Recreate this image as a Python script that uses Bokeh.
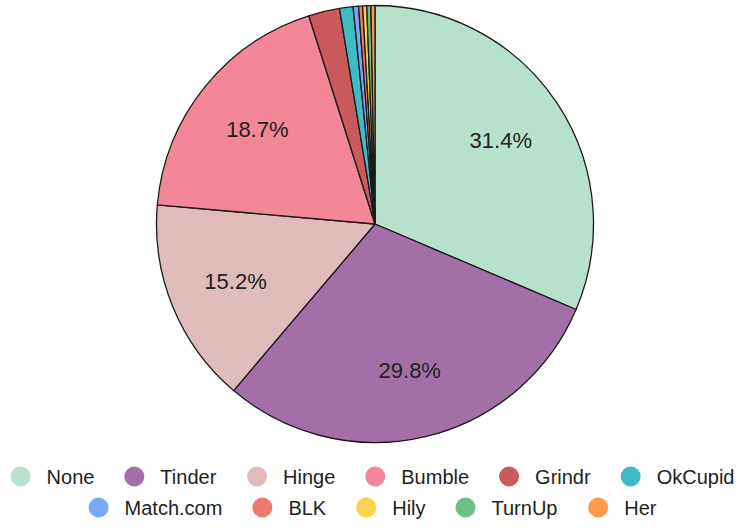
import math
from bokeh.plotting import figure
from bokeh.models import Range1d, ColumnDataSource
from bokeh.core.properties import value
from bokeh.embed import file_html
from bokeh.resources import INLINE

# ---- data ----
apps = ["None", "Tinder", "Hinge", "Bumble", "Grindr", "OkCupid",
        "Match.com", "BLK", "Hily", "TurnUp", "Her"]
shares = [31.4, 29.8, 15.2, 18.7, 2.3, 1.0, 0.4, 0.3, 0.3, 0.3, 0.3]
colors = ["#b6e1cd", "#a46fa6", "#dfbcbb", "#f38798", "#ca5a5c", "#3fbbc4",
          "#79a9f4", "#ef7a70", "#fcd24e", "#6ec085", "#fd9a4c"]
legend_rows = [apps[:6], apps[6:]]

# ---- layout (screen px -> data coords) ----
PW, PH = 742, 529
WIN_H = 529


def sy(y):
    return WIN_H - y


p = figure(width=PW, height=PH, x_range=Range1d(0, PW),
           y_range=Range1d(WIN_H - PH, WIN_H),
           output_backend="svg", toolbar_location=None, min_border=0)
p.axis.visible = False
p.grid.visible = False
p.outline_line_color = None
p.background_fill_color = "white"
p.border_fill_color = "white"

cx, cy, R = 374.5, 223.5, 218.5
total = sum(shares)
starts, ends, mids = [], [], []
cum = 0.0
for s in shares:
    a0 = math.pi / 2 - 2 * math.pi * cum / total
    cum += s
    a1 = math.pi / 2 - 2 * math.pi * cum / total
    starts.append(a0)
    ends.append(a1)
    mids.append((a0 + a1) / 2)

src = ColumnDataSource(dict(x=[cx] * len(apps), y=[sy(cy)] * len(apps),
                            start=starts, end=ends, color=colors, name=apps))
p.wedge(x="x", y="y", radius=R, start_angle="start", end_angle="end",
        direction="clock", fill_color="color", line_color="#1a1a1a",
        line_width=1.3, source=src)

# slice labels
lx, ly, lt = [], [], []
for s, m in zip(shares, mids):
    if s >= 5:
        lx.append(cx + 0.69 * R * math.cos(m))
        ly.append(sy(cy) + 0.69 * R * math.sin(m))
        lt.append(f"{s:.1f}%")
p.text(x=lx, y=ly, text=lt, text_align="center", text_baseline="middle",
       text_font=value("Liberation Sans"), text_font_size="22px",
       text_color="#222222")

# legend (manual, two centred rows)
WID = {'N': 722, 'o': 556, 'n': 556, 'e': 556, 'T': 611, 'i': 222, 'd': 556,
       'r': 333, 'H': 722, 'g': 556, 'B': 667, 'u': 556, 'm': 833, 'b': 556,
       'l': 222, 'G': 778, 'O': 778, 'k': 500, 'C': 722, 'p': 556, 'M': 833,
       'a': 556, 't': 278, 'c': 500, 'h': 556, '.': 278, 'L': 556, 'K': 667,
       'y': 500, 'U': 722}
FS = 20
DIAM = 20
GAP = 16
SPACE = 30


def tw(t):
    return sum(WID.get(ch, 556) for ch in t) / 1000 * FS


row_y = [476, 507]
cxs, cys, ccol, tx, ty, tt = [], [], [], [], [], []
for row, yrow in zip(legend_rows, row_y):
    width = sum(DIAM + GAP + tw(t) for t in row) + SPACE * (len(row) - 1)
    x = 372 - width / 2
    for t in row:
        cxs.append(x + DIAM / 2)
        cys.append(sy(yrow))
        ccol.append(colors[apps.index(t)])
        tx.append(x + DIAM + GAP)
        ty.append(sy(yrow))
        tt.append(t)
        x += DIAM + GAP + tw(t) + SPACE

p.scatter(x=cxs, y=cys, size=DIAM, marker="circle", fill_color=ccol,
          line_color=None)
p.text(x=tx, y=ty, text=tt, text_align="left", text_baseline="middle",
       text_font=value("Liberation Sans"), text_font_size=f"{FS}px",
       text_color="#222222")

open("out.html", "w").write(file_html(p, INLINE))
